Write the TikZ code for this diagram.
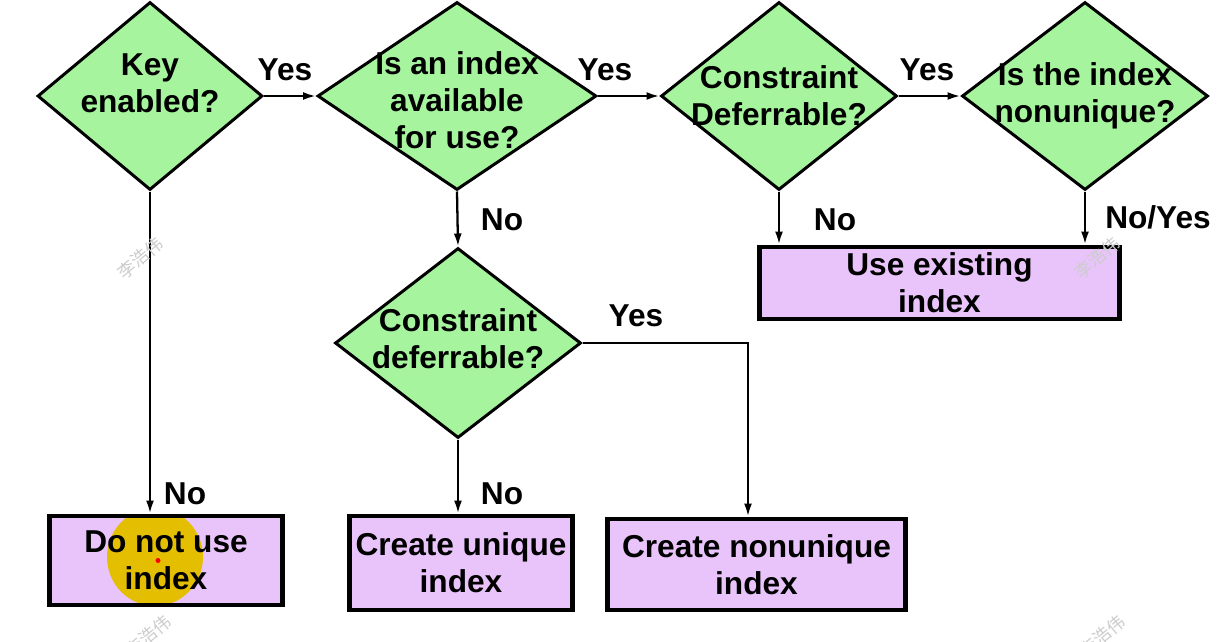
\documentclass[tikz,border=0pt]{standalone}
\usepackage{fontspec}
\setmainfont{Liberation Sans}
\newfontfamily\cjkfont{Noto Sans CJK SC}
\usetikzlibrary{shapes.geometric,arrows.meta}

\definecolor{testgreen}{RGB}{166,245,158}
\definecolor{actpurple}{RGB}{233,196,250}
\definecolor{cursoryellow}{RGB}{228,190,0}

\def\wm#1#2#3{\node[wmark] (#1) at (#2,#3) {李浩伟};}

\begin{document}
\begin{tikzpicture}[x=0.2mm,y=-0.2mm,
	every node/.style={font=\fontsize{18}{21}\selectfont\bfseries},
	test/.style={diamond,draw,fill=testgreen,line width=1.7pt,inner sep=0pt},
	act/.style={rectangle,draw,fill=actpurple,line width=2.8pt,align=center,inner sep=0pt},
	flow/.style={line width=1.3pt,-{Latex[length=2.6mm,width=1.6mm]}},
	wmark/.style={font=\cjkfont\fontsize{10}{10}\selectfont,text=black!20,rotate=40}]
	\path[use as bounding box,fill=white] (0,0) rectangle (1225,641);

	% decisions
	\node[test,minimum width=45mm,minimum height=37.6mm,
		label={[align=center,yshift=2.6mm]center:Key\\enabled?}] (key) at (150,96) {};
	\node[test,minimum width=55.8mm,minimum height=37.6mm,
		label={[align=center,yshift=-0.8mm]center:Is an index\\available\\for use?}] (avail) at (457,96) {};
	\node[test,minimum width=47.2mm,minimum height=37.6mm,
		label={[align=center]center:Constraint\\Deferrable?}] (defer) at (779,96) {};
	\node[test,minimum width=49.2mm,minimum height=37.6mm,
		label={[align=center]center:Is the index\\nonunique?}] (nonuniq) at (1085,96) {};
	\node[test,minimum width=49.2mm,minimum height=38mm,
		label={[align=center,yshift=0.8mm]center:Constraint\\deferrable?}] (defer2) at (458,343) {};

	% actions
	\node[act,minimum width=72mm,minimum height=14.4mm] (useidx) at (939.5,283) {Use existing\\index};
	\node[act,minimum width=46.6mm,minimum height=17.8mm,
		path picture={
			\fill[cursoryellow] ([xshift=-2.2mm,yshift=0.7mm]path picture bounding box.center) ellipse (9.6mm and 9.8mm);
			\fill[red] ([xshift=-1.6mm]path picture bounding box.center) circle (0.5mm);
		}] (nouse) at (166,560.5) {Do not use\\index};
	\node[act,minimum width=44.6mm,minimum height=18.8mm] (mkuniq) at (461,563) {Create unique\\index};
	\node[act,minimum width=59.6mm,minimum height=18.2mm] (mknonuniq) at (756.5,564.5) {Create nonunique\\index};

	% answers
	\node (yes1) at (285,70) {Yes};
	\node (yes2) at (605,70) {Yes};
	\node (yes3) at (927,70) {Yes};
	\node (no1) at (502,220) {No};
	\node (no2) at (835,220) {No};
	\node (noyes) at (1158,217) {No/Yes};
	\node (yes4) at (636,316) {Yes};
	\node (no3) at (185,494) {No};
	\node (no4) at (502,494) {No};

	% connectors
	\coordinate (bend) at (748,343);
	\draw[flow] (key.east) -- (avail.west);
	\draw[flow] (avail.east) -- (defer.west);
	\draw[flow] (defer.east) -- (nonuniq.west);
	\draw[flow] (defer.south) -- (defer.south |- useidx.north);
	\draw[flow] (nonuniq.south) -- (nonuniq.south |- useidx.north);
	\draw[flow] (key.south) -- (key.south |- nouse.north);
	\draw[flow] (avail.south) -- (defer2.north);
	\draw[flow] (defer2.south) -- (defer2.south |- mkuniq.north);
	\draw[flow] (defer2.east) -- (bend) -- (bend |- mknonuniq.north);

	\wm{wma}{140}{258}
	\wm{wmb}{1097}{258}
	\wm{wmc}{148}{636}
	\wm{wmd}{1102}{636}
\end{tikzpicture}
\end{document}
